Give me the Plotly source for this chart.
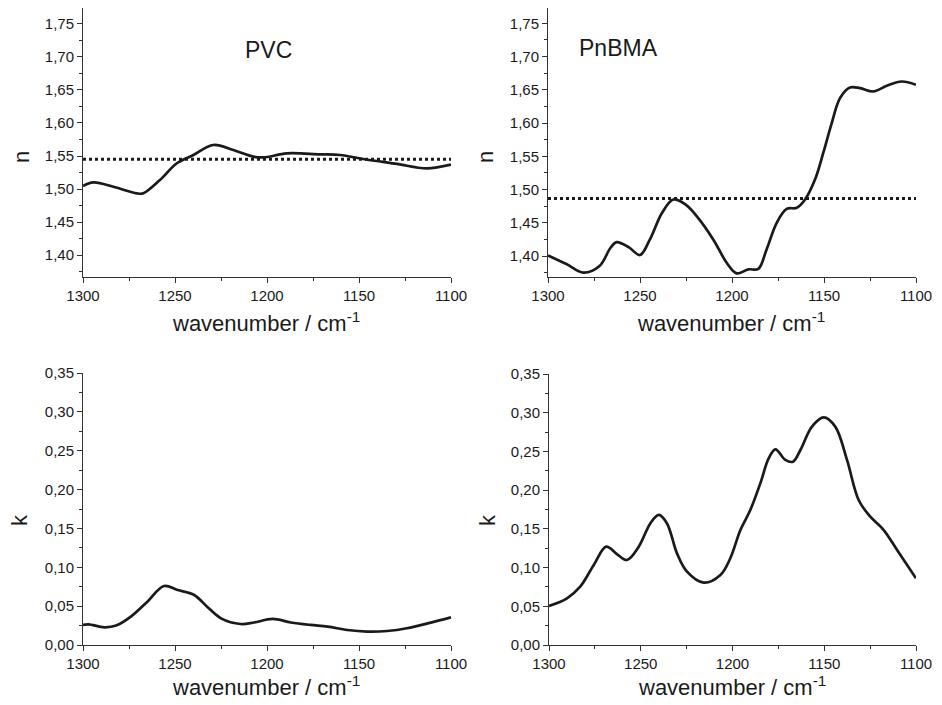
import plotly.graph_objects as go

# ---------------- data ----------------
pvc_n_x = [1300, 1294.4, 1283, 1270.8, 1267.2, 1258.2, 1249, 1240, 1229.2, 1218.3, 1207.4, 1201, 1189.3, 1171.2, 1160.3, 1147.7, 1129.5, 1113.2, 1100]
pvc_n_y = [1.5045, 1.510, 1.503, 1.4935, 1.4935, 1.5136, 1.539, 1.5515, 1.5667, 1.559, 1.549, 1.548, 1.554, 1.5525, 1.5515, 1.5455, 1.538, 1.5313, 1.537]
pvc_n_ref = 1.545

pnbma_n_x = [1300, 1290, 1280.8, 1272, 1266, 1262.7, 1256, 1250, 1244.6, 1238, 1231.9, 1225, 1219.2, 1210.2, 1202.9, 1197.5, 1191.1, 1185.7, 1181.2, 1175.7, 1170.3, 1164.8, 1160.3, 1154.9, 1150.4, 1145.8, 1141.3, 1135.9, 1130.4, 1123.2, 1115.9, 1107.8, 1100]
pnbma_n_y = [1.401, 1.388, 1.375, 1.385, 1.4125, 1.421, 1.413, 1.4015, 1.425, 1.465, 1.485, 1.477, 1.460, 1.425, 1.390, 1.374, 1.380, 1.3807, 1.41, 1.45, 1.471, 1.4725, 1.485, 1.515, 1.555, 1.600, 1.6375, 1.6535, 1.6525, 1.6475, 1.656, 1.6625, 1.6575]
pnbma_n_ref = 1.4865

pvc_k_x = [1300, 1297, 1288.4, 1282, 1274, 1265, 1256, 1248.6, 1239.6, 1232.4, 1225, 1214.3, 1207, 1197, 1187, 1176.3, 1167, 1156.4, 1145.6, 1134.7, 1124, 1111, 1100]
pvc_k_y = [0.0258, 0.0266, 0.0228, 0.025, 0.0365, 0.0558, 0.076, 0.0708, 0.0644, 0.049, 0.0343, 0.027, 0.029, 0.0335, 0.029, 0.0258, 0.0236, 0.0193, 0.0172, 0.018, 0.0215, 0.0288, 0.0356]

pnbma_k_x = [1300, 1290.2, 1283, 1275.7, 1268.8, 1263, 1257.5, 1251.1, 1244.8, 1240.2, 1235.7, 1230.2, 1224.8, 1215.7, 1206.6, 1201.2, 1195.7, 1190.3, 1184.8, 1180.3, 1176.6, 1171.2, 1167, 1163, 1156.7, 1150.3, 1144, 1137.6, 1131.2, 1124.9, 1117.6, 1110.3, 1100]
pnbma_k_y = [0.0504, 0.0603, 0.0753, 0.103, 0.127, 0.1175, 0.1098, 0.127, 0.157, 0.168, 0.157, 0.118, 0.0947, 0.0805, 0.0904, 0.112, 0.1485, 0.1743, 0.209, 0.241, 0.2527, 0.239, 0.2368, 0.2518, 0.282, 0.294, 0.282, 0.239, 0.187, 0.1657, 0.1485, 0.1227, 0.0861]

x_edges = [1300, 1100]

# ---------------- figure ----------------
# the page body has an 8px default margin; size the figure to fit the 942x705 window
OFF = 8
W, H = 942 - 2 * OFF, 705 - 2 * OFF
FONT = "Liberation Sans, Arial, sans-serif"
INK = "#1a1a1a"
AX = "#333333"

fig = go.Figure()

def line(x, y, xa, ya, dash="solid", width=2.7):
    fig.add_trace(go.Scatter(x=x, y=y, xaxis=xa, yaxis=ya, mode="lines",
                             line=dict(color=INK, width=width, dash=dash,
                                       shape="spline" if dash == "solid" else "linear", smoothing=1.0),
                             showlegend=False, hoverinfo="skip"))

line(pvc_n_x, pvc_n_y, "x", "y")
line(x_edges, [pvc_n_ref, pvc_n_ref], "x", "y", dash="dot", width=3)
line(pnbma_n_x, pnbma_n_y, "x2", "y2")
line(x_edges, [pnbma_n_ref, pnbma_n_ref], "x2", "y2", dash="dot", width=3)
line(pvc_k_x, pvc_k_y, "x3", "y3")
line(pnbma_k_x, pnbma_k_y, "x4", "y4")

def clamp(v):
    return min(1.0, max(0.0, v))

def px_x(a, b):
    return [clamp((a - OFF) / W), clamp((b - OFF) / W)]

def px_y(top, bottom):
    return [clamp(1 - (bottom - OFF) / H), clamp(1 - (top - OFF) / H)]

common_x = dict(range=[1300, 1100], tickmode="linear", tick0=1100, dtick=50, automargin=False,
                ticks="outside", ticklen=5, tickwidth=1, tickcolor=AX,
                minor=dict(dtick=25, tick0=1100, ticks="outside", ticklen=3, tickcolor=AX, tickwidth=1),
                showline=True, linecolor=AX, linewidth=1, showgrid=False, zeroline=False,
                tickfont=dict(family=FONT, size=15, color=INK))
common_y = dict(ticks="outside", ticklen=5, tickwidth=1, tickcolor=AX, automargin=False,
                showline=True, linecolor=AX, linewidth=1, showgrid=False, zeroline=False,
                tickformat=".2f", tickfont=dict(family=FONT, size=15, color=INK))

def minor_y(t0):
    return dict(dtick=0.025, tick0=t0, ticks="outside", ticklen=3, tickcolor=AX, tickwidth=1)

fig.update_layout(
    width=W, height=H, margin=dict(l=0, r=0, t=0, b=0, pad=0, autoexpand=False),
    paper_bgcolor="white", plot_bgcolor="white", separators=",.",
    xaxis=dict(domain=px_x(83, 451), anchor="y", **common_x),
    xaxis2=dict(domain=px_x(548, 916), anchor="y2", **common_x),
    xaxis3=dict(domain=px_x(83, 451), anchor="y3", **common_x),
    xaxis4=dict(domain=px_x(549, 916), anchor="y4", **common_x),
    yaxis=dict(domain=px_y(8, 277), anchor="x", range=[1.3667, 1.7742], tickmode="linear", tick0=1.4, dtick=0.05,
               minor=minor_y(1.4), **common_y),
    yaxis2=dict(domain=px_y(8, 277), anchor="x2", range=[1.3685, 1.773], tickmode="linear", tick0=1.4, dtick=0.05,
                minor=minor_y(1.4), **common_y),
    yaxis3=dict(domain=px_y(373, 645), anchor="x3", range=[0, 0.35], tickmode="linear", tick0=0, dtick=0.05,
                minor=minor_y(0), **common_y),
    yaxis4=dict(domain=px_y(374, 645), anchor="x4", range=[0, 0.35], tickmode="linear", tick0=0, dtick=0.05,
                minor=minor_y(0), **common_y),
)

def ann(text, xpx, ypx, size=22, angle=0):
    fig.add_annotation(text=text, x=(xpx - OFF) / W, y=1 - (ypx - OFF) / H, xref="paper", yref="paper",
                       xanchor="center", yanchor="middle", showarrow=False, textangle=angle, borderpad=0,
                       font=dict(family=FONT, size=size, color=INK))

xt = "wavenumber / cm<sup>-1</sup>"
ann(xt, 266, 322)
ann(xt, 731, 322)
ann(xt, 266, 686)
ann(xt, 732, 686)
ann("n", 22, 157, angle=-90)
ann("n", 486, 157, angle=-90)
ann("k", 19, 520, angle=-90)
ann("k", 487, 520, angle=-90)
ann("PVC", 268, 50, size=23)
ann("PnBMA", 618, 48, size=23)

fig.write_html("out.html")
